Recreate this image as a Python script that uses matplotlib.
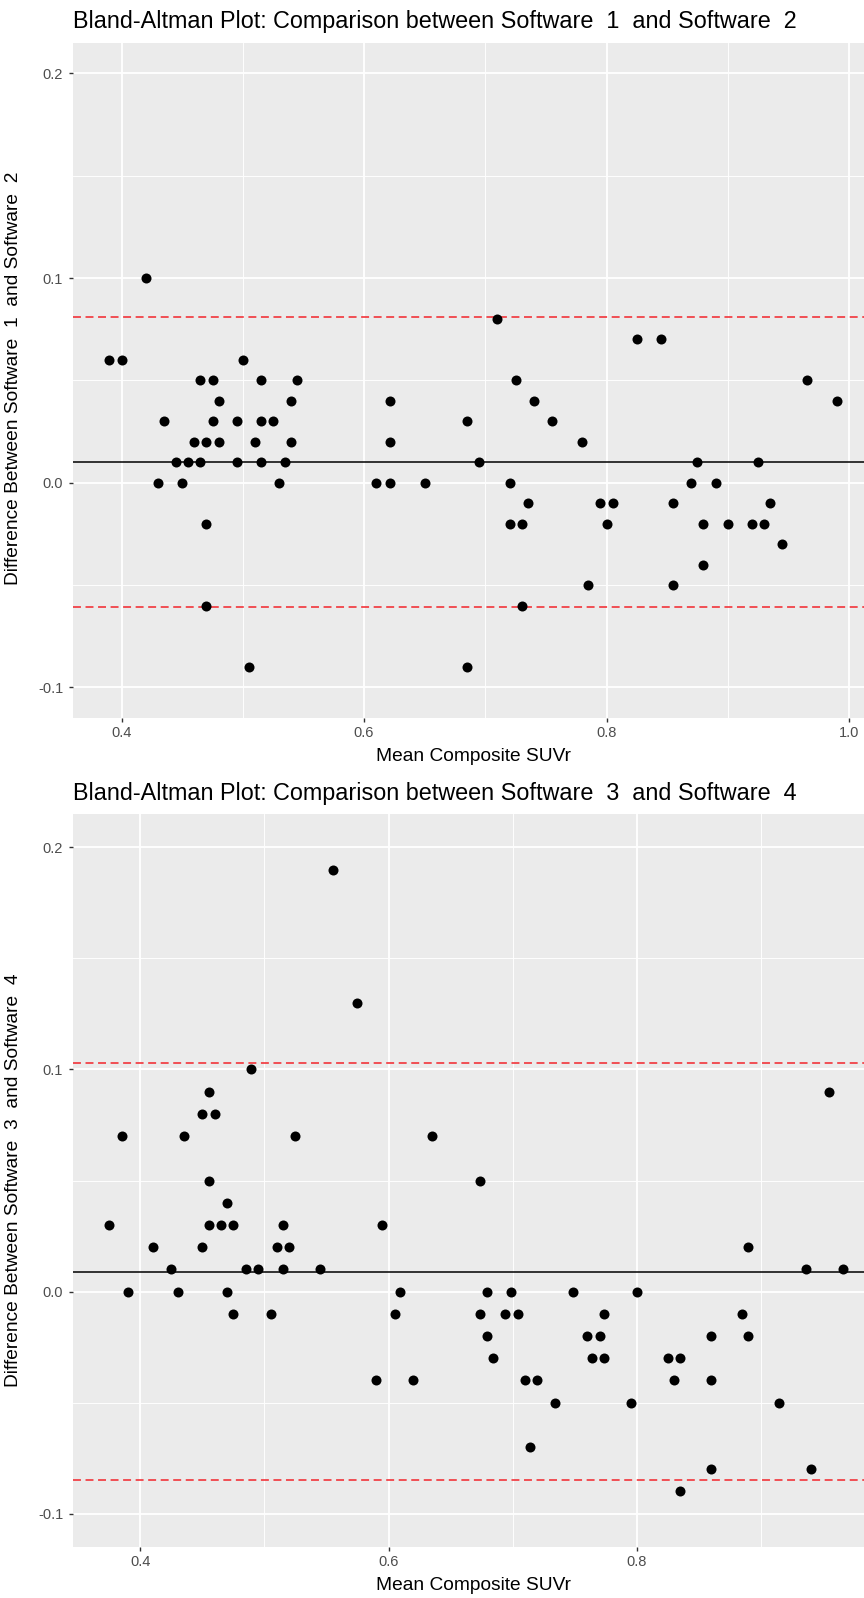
import matplotlib
matplotlib.use("Agg")
import matplotlib.pyplot as plt
from matplotlib.ticker import MultipleLocator

plt.rcParams['font.family'] = ['Liberation Sans', 'DejaVu Sans']

# --- Software 1 vs Software 2 ---
mean_12 = [0.420, 0.390, 0.400, 0.500, 0.465, 0.475, 0.515, 0.545,
           0.480, 0.540, 0.621, 0.435, 0.475, 0.495, 0.515, 0.525,
           0.460, 0.470, 0.480, 0.510, 0.540, 0.621, 0.445, 0.455,
           0.465, 0.495, 0.515, 0.535, 0.430, 0.450, 0.530, 0.610,
           0.621, 0.650, 0.470, 0.470, 0.505,
           0.710, 0.825, 0.845, 0.725, 0.965, 0.740, 0.990, 0.685,
           0.755, 0.780, 0.695, 0.875, 0.925, 0.720, 0.870, 0.890,
           0.735, 0.795, 0.805, 0.855, 0.935, 0.720, 0.730, 0.800,
           0.880, 0.900, 0.920, 0.930, 0.945, 0.880, 0.785, 0.855,
           0.730, 0.685]
diff_12 = [0.10, 0.06, 0.06, 0.06, 0.05, 0.05, 0.05, 0.05,
           0.04, 0.04, 0.04, 0.03, 0.03, 0.03, 0.03, 0.03,
           0.02, 0.02, 0.02, 0.02, 0.02, 0.02, 0.01, 0.01,
           0.01, 0.01, 0.01, 0.01, 0.00, 0.00, 0.00, 0.00,
           0.00, 0.00, -0.02, -0.06, -0.09,
           0.08, 0.07, 0.07, 0.05, 0.05, 0.04, 0.04, 0.03,
           0.03, 0.02, 0.01, 0.01, 0.01, 0.00, 0.00, 0.00,
           -0.01, -0.01, -0.01, -0.01, -0.01, -0.02, -0.02, -0.02,
           -0.02, -0.02, -0.02, -0.02, -0.03, -0.04, -0.05, -0.05,
           -0.06, -0.09]
bias_12, loa_12 = 0.0101, (-0.0606, 0.0808)

# --- Software 3 vs Software 4 ---
mean_34 = [0.555, 0.575, 0.489, 0.455, 0.450, 0.460, 0.385, 0.435,
           0.525, 0.635, 0.455, 0.470, 0.375, 0.455, 0.465, 0.475,
           0.515, 0.595, 0.410, 0.450, 0.510, 0.520, 0.425, 0.485,
           0.495, 0.515, 0.545, 0.390, 0.430, 0.470, 0.609, 0.475,
           0.505, 0.605, 0.590, 0.620,
           0.955, 0.674, 0.890, 0.936, 0.966, 0.679, 0.699, 0.749,
           0.800, 0.674, 0.694, 0.704, 0.774, 0.885, 0.679, 0.760,
           0.770, 0.860, 0.890, 0.684, 0.764, 0.774, 0.825, 0.835,
           0.710, 0.720, 0.830, 0.860, 0.734, 0.795, 0.915, 0.714,
           0.860, 0.835, 0.940]
diff_34 = [0.19, 0.13, 0.10, 0.09, 0.08, 0.08, 0.07, 0.07,
           0.07, 0.07, 0.05, 0.04, 0.03, 0.03, 0.03, 0.03,
           0.03, 0.03, 0.02, 0.02, 0.02, 0.02, 0.01, 0.01,
           0.01, 0.01, 0.01, 0.00, 0.00, 0.00, 0.00, -0.01,
           -0.01, -0.01, -0.04, -0.04,
           0.09, 0.05, 0.02, 0.01, 0.01, 0.00, 0.00, 0.00,
           0.00, -0.01, -0.01, -0.01, -0.01, -0.01, -0.02, -0.02,
           -0.02, -0.02, -0.02, -0.03, -0.03, -0.03, -0.03, -0.03,
           -0.04, -0.04, -0.04, -0.04, -0.05, -0.05, -0.05, -0.07,
           -0.08, -0.09, -0.08]
bias_34, loa_34 = 0.0087, (-0.085, 0.103)

W, H = 864, 1598
fig = plt.figure(figsize=(W / 100, H / 100), dpi=100)


def px_axes(left, top, right, bottom):
    return fig.add_axes([left / W, 1 - bottom / H, (right - left) / W, (bottom - top) / H])


def bland_altman(ax, x, d, bias, loa, xlim, xticks):
    ax.set_facecolor('#EBEBEB')
    for s in ax.spines.values():
        s.set_visible(False)
    ax.set_xlim(*xlim)
    ax.set_ylim(-0.115, 0.215)
    ax.set_xticks(xticks)
    ax.set_xticklabels([f"{t:.1f}" for t in xticks])
    ax.set_yticks([-0.1, 0.0, 0.1, 0.2])
    ax.set_yticklabels(["-0.1", "0.0", "0.1", "0.2"])
    ax.xaxis.set_minor_locator(MultipleLocator(0.1))
    ax.yaxis.set_minor_locator(MultipleLocator(0.05))
    ax.grid(which='major', color='white', lw=1.3)
    ax.grid(which='minor', color='white', lw=0.65)
    ax.set_axisbelow(True)
    ax.tick_params(which='major', length=3.2, width=1.0, color='#333333',
                   labelcolor='#4D4D4D', labelsize=10.5)
    ax.tick_params(axis='x', pad=2.5)
    ax.tick_params(axis='y', pad=3.5)
    ax.tick_params(which='minor', length=0)
    ax.scatter(x, d, s=52, color='black', zorder=3, linewidths=0)
    ax.axhline(bias, color='black', lw=1.1, zorder=2)
    for v in loa:
        ax.axhline(v, color='#F2242A', lw=1.1, ls=(0, (5.2, 3)), zorder=2)


ax1 = px_axes(72.5, 42.6, 864, 718.1)
bland_altman(ax1, mean_12, diff_12, bias_12, loa_12, (0.3595, 1.0124), [0.4, 0.6, 0.8, 1.0])

ax2 = px_axes(72.5, 814, 864, 1547)
bland_altman(ax2, mean_34, diff_34, bias_34, loa_34, (0.3454, 0.9831), [0.4, 0.6, 0.8])

fig.text(73 / W, 1 - 28.3 / H, "Bland-Altman Plot: Comparison between Software  1  and Software  2",
         fontsize=16.8, va='baseline', ha='left')
fig.text(73 / W, 1 - 799.7 / H, "Bland-Altman Plot: Comparison between Software  3  and Software  4",
         fontsize=16.8, va='baseline', ha='left')
fig.text(473.5 / W, 1 - 761 / H, "Mean Composite SUVr", fontsize=13.8, ha='center', va='baseline')
fig.text(473.5 / W, 1 - 1590 / H, "Mean Composite SUVr", fontsize=13.8, ha='center', va='baseline')
fig.text(14 / W, 1 - 378 / H, "Difference Between Software  1  and Software  2",
         fontsize=13.8, rotation=90, ha='center', va='center')
fig.text(14 / W, 1 - 1180 / H, "Difference Between Software  3  and Software  4",
         fontsize=13.8, rotation=90, ha='center', va='center')

fig.savefig("out.png", dpi=100)
